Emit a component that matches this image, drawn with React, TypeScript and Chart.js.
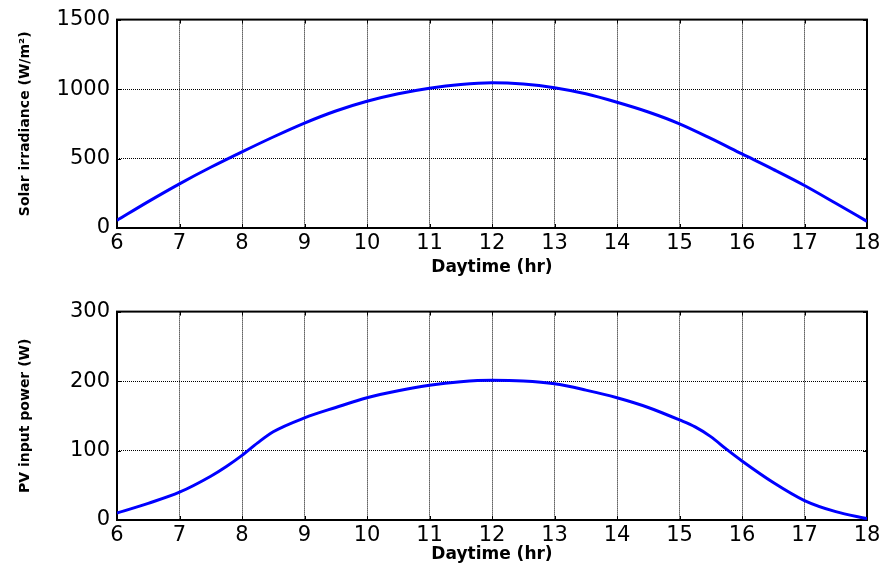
import React, { useEffect, useRef } from "react";
import { Chart, registerables } from "chart.js";
Chart.register(...registerables);

const hoursTop = [6, 6.5, 7, 7.5, 8, 8.5, 9, 9.5, 10, 10.5, 11, 11.5, 12, 12.5, 13, 13.5, 14, 14.5, 15, 15.5, 16, 16.5, 17, 17.5, 18];
const irradiance = [55, 190, 318, 437, 548, 655, 755, 842, 912, 966, 1006, 1033, 1045, 1036, 1010, 966, 905, 835, 750, 645, 533, 422, 306, 178, 48];

const hoursBottom = [6, 6.5, 7, 7.5, 7.75, 8, 8.25, 8.5, 9, 9.5, 10, 10.5, 11, 11.5, 12, 12.5, 13, 13.5, 14, 14.5, 15, 15.25, 15.5, 15.75, 16, 16.5, 17, 17.5, 18];
const pvPower = [10, 24, 40, 63, 77, 93, 111, 127, 147, 162, 176, 186, 194, 199, 201, 200, 196, 187, 176, 162, 144, 134, 120, 102, 85, 54, 28, 12, 2];

const xTitle = "Daytime (hr)";
const topTitle = "Solar irradiance (W/m²)";
const bottomTitle = "PV input power (W)";

const boxPlugin = {
  id: "boxPlugin",
  beforeDatasetsDraw(chart: any) {
    const { ctx, chartArea: a, scales } = chart;
    ctx.save();
    ctx.strokeStyle = "#000";
    ctx.lineWidth = 1;
    ctx.setLineDash([]);
    ctx.beginPath();
    scales.x.ticks.forEach((t: any) => {
      const px = Math.round(scales.x.getPixelForValue(t.value)) + 0.5;
      ctx.moveTo(px, a.bottom);
      ctx.lineTo(px, a.bottom - 4);
      ctx.moveTo(px, a.top);
      ctx.lineTo(px, a.top + 4);
    });
    scales.y.ticks.forEach((t: any) => {
      const py = Math.round(scales.y.getPixelForValue(t.value)) + 0.5;
      ctx.moveTo(a.left, py);
      ctx.lineTo(a.left + 4, py);
      ctx.moveTo(a.right, py);
      ctx.lineTo(a.right - 4, py);
    });
    ctx.stroke();
    ctx.lineWidth = 2;
    ctx.strokeRect(a.left, a.top, a.right - a.left, a.bottom - a.top);
    ctx.restore();
  },
};

function makeChart(
  canvas: HTMLCanvasElement,
  xs: number[],
  ys: number[],
  yMax: number,
  yStep: number,
  yTitle: string,
  xAxisHeight: number
) {
  const tickFont = { family: "'DejaVu Sans'", size: 21 };
  return new Chart(canvas, {
    type: "line",
    data: {
      datasets: [
        {
          data: xs.map((x, i) => ({ x, y: ys[i] })),
          borderColor: "#0000ff",
          backgroundColor: "#0000ff",
          borderWidth: 3,
          pointRadius: 0,
          cubicInterpolationMode: "monotone",
          fill: false,
        },
      ],
    },
    options: {
      responsive: false,
      animation: false,
      events: [],
      layout: { padding: { left: 0, right: 25, top: 17, bottom: 0 } },
      plugins: { legend: { display: false }, tooltip: { enabled: false } },
      scales: {
        x: {
          type: "linear",
          min: 6,
          max: 18,
          ticks: {
            stepSize: 1,
            color: "#000",
            font: tickFont,
            padding: 3,
            maxRotation: 0,
            autoSkip: false,
            callback: (v: any) => String(v),
          },
          grid: { color: "#000", lineWidth: 1, drawTicks: false, borderDash: [1, 1] },
          border: { display: false, dash: [1, 1] },
          title: {
            display: true,
            text: xTitle,
            color: "#000",
            font: { family: "'DejaVu Sans'", size: 17, weight: "bold" },
            padding: { top: 0, bottom: 9 },
          },
          afterFit: (s: any) => {
            s.height = xAxisHeight;
          },
        },
        y: {
          type: "linear",
          min: 0,
          max: yMax,
          ticks: { stepSize: yStep, color: "#000", font: tickFont, padding: 7, callback: (v: any) => String(v) },
          grid: { color: "#000", lineWidth: 1, drawTicks: false, borderDash: [1, 1] },
          border: { display: false, dash: [1, 1] },
          title: {
            display: true,
            text: yTitle,
            color: "#000",
            font: { family: "'DejaVu Sans'", size: 14, weight: "bold" },
            padding: { top: 17, bottom: 0 },
          },
          afterFit: (s: any) => {
            s.width = 117;
          },
        },
      },
    },
    plugins: [boxPlugin],
  } as any);
}

export default function App() {
  const topRef = useRef<HTMLCanvasElement>(null);
  const botRef = useRef<HTMLCanvasElement>(null);
  useEffect(() => {
    const c1 = makeChart(topRef.current!, hoursTop, irradiance, 1500, 500, topTitle, 59);
    const c2 = makeChart(botRef.current!, hoursBottom, pvPower, 300, 100, bottomTitle, 54);
    return () => {
      c1.destroy();
      c2.destroy();
    };
  }, []);
  return (
    <div style={{ position: "absolute", left: 0, top: 0, width: 892, height: 574, background: "#fff" }}>
      <canvas ref={topRef} width={892} height={287} style={{ position: "absolute", left: 0, top: 0, width: 892, height: 287 }} />
      <canvas ref={botRef} width={892} height={282} style={{ position: "absolute", left: 0, top: 292, width: 892, height: 282 }} />
    </div>
  );
}
